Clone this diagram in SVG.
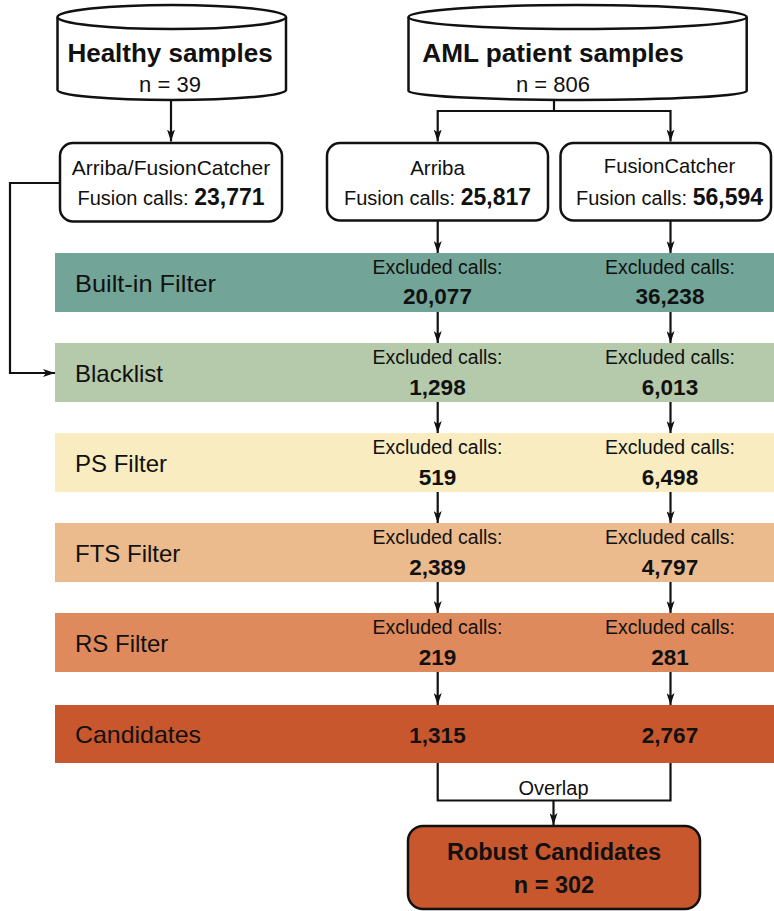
<svg xmlns="http://www.w3.org/2000/svg" width="774" height="911" viewBox="0 0 774 911">
<style>
text{font-family:"Liberation Sans",Arial,sans-serif;fill:#111}
.b{font-weight:bold}
.mid{text-anchor:middle}
.shape{fill:#fff;stroke:#111;stroke-width:2.5}
.conn{fill:none;stroke:#111;stroke-width:2.2}
.lbl{font-size:24px}
.ex{font-size:19.5px;text-anchor:middle}
.num{font-size:22.5px;font-weight:bold;text-anchor:middle}
</style>
<defs>
<marker id="ah" markerUnits="userSpaceOnUse" markerWidth="12" markerHeight="8" refX="12" refY="4" orient="auto" viewBox="0 0 12 8">
<path d="M0,0 L12,4 L0,8 L3,4 z" fill="#111"/>
</marker>
</defs>
<rect width="774" height="911" fill="#fff"/>

<g id="band-builtin">
<rect x="55" y="253" width="719" height="59" fill="#72A597"/>
<text class="lbl" x="75" y="292" textLength="141" lengthAdjust="spacingAndGlyphs">Built-in Filter</text>
<text class="ex" x="437.5" y="273.5">Excluded calls:</text>
<text class="num" x="437.5" y="304">20,077</text>
<text class="ex" x="670" y="273.5">Excluded calls:</text>
<text class="num" x="670" y="304">36,238</text>
</g>
<g id="band-blacklist">
<rect x="55" y="343" width="719" height="59" fill="#B5C9AB"/>
<text class="lbl" x="75" y="382">Blacklist</text>
<text class="ex" x="437.5" y="363.5">Excluded calls:</text>
<text class="num" x="437.5" y="394.5">1,298</text>
<text class="ex" x="670" y="363.5">Excluded calls:</text>
<text class="num" x="670" y="394.5">6,013</text>
</g>
<g id="band-ps">
<rect x="55" y="433" width="719" height="59" fill="#F8ECC0"/>
<text class="lbl" x="75" y="472">PS Filter</text>
<text class="ex" x="437.5" y="453.5">Excluded calls:</text>
<text class="num" x="437.5" y="484.5">519</text>
<text class="ex" x="670" y="453.5">Excluded calls:</text>
<text class="num" x="670" y="484.5">6,498</text>
</g>
<g id="band-fts">
<rect x="55" y="523" width="719" height="59" fill="#ECBB8D"/>
<text class="lbl" x="75" y="562">FTS Filter</text>
<text class="ex" x="437.5" y="543.5">Excluded calls:</text>
<text class="num" x="437.5" y="574.5">2,389</text>
<text class="ex" x="670" y="543.5">Excluded calls:</text>
<text class="num" x="670" y="574.5">4,797</text>
</g>
<g id="band-rs">
<rect x="55" y="613" width="719" height="59" fill="#DE8A5D"/>
<text class="lbl" x="75" y="652">RS Filter</text>
<text class="ex" x="437.5" y="633.5">Excluded calls:</text>
<text class="num" x="437.5" y="664.5">219</text>
<text class="ex" x="670" y="633.5">Excluded calls:</text>
<text class="num" x="670" y="664.5">281</text>
</g>
<g id="band-candidates">
<rect x="55" y="705" width="719" height="58" fill="#C9572E"/>
<text class="lbl" x="75" y="743" textLength="126" lengthAdjust="spacingAndGlyphs">Candidates</text>
<text class="num" x="437.5" y="743">1,315</text>
<text class="num" x="670" y="743">2,767</text>
</g>

<g id="connectors">
<path class="conn" d="M171,100 V141.5" marker-end="url(#ah)"/>
<path class="conn" d="M554,100 V111 M437.7,111 H670.5" />
<path class="conn" d="M437.7,110 V141.5" marker-end="url(#ah)"/>
<path class="conn" d="M670.5,110 V141.5" marker-end="url(#ah)"/>
<path class="conn" d="M60,183 H10 V373 H55" marker-end="url(#ah)"/>
<path class="conn" d="M437.7,221 V253" marker-end="url(#ah)"/>
<path class="conn" d="M670.5,221 V253" marker-end="url(#ah)"/>
<path class="conn" d="M437.7,312 V343" marker-end="url(#ah)"/>
<path class="conn" d="M670.5,312 V343" marker-end="url(#ah)"/>
<path class="conn" d="M437.7,402 V433" marker-end="url(#ah)"/>
<path class="conn" d="M670.5,402 V433" marker-end="url(#ah)"/>
<path class="conn" d="M437.7,492 V523" marker-end="url(#ah)"/>
<path class="conn" d="M670.5,492 V523" marker-end="url(#ah)"/>
<path class="conn" d="M437.7,582 V613" marker-end="url(#ah)"/>
<path class="conn" d="M670.5,582 V613" marker-end="url(#ah)"/>
<path class="conn" d="M437.7,672 V705" marker-end="url(#ah)"/>
<path class="conn" d="M670.5,672 V705" marker-end="url(#ah)"/>
<path class="conn" d="M437.7,763 V800.5 H670.5 V763"/>
<path class="conn" d="M553.5,800.5 V825" marker-end="url(#ah)"/>
<text x="553.5" y="795" class="mid" font-size="20">Overlap</text>
</g>

<g id="healthy-samples">
<path class="shape" d="M57.5,17 V90 A114.25,10 0 0 0 286,90 V17 A114.25,12 0 0 0 57.5,17 Z"/>
<path class="shape" fill="none" d="M57.5,17 A114.25,12 0 0 0 286,17"/>
<text x="170" y="62" class="b mid" font-size="26">Healthy samples</text>
<text x="170" y="92" class="mid" font-size="22">n = 39</text>
</g>

<g id="aml-samples">
<path class="shape" d="M408.5,17 V91 A169.1,9 0 0 0 746.7,91 V17 A169.1,12 0 0 0 408.5,17 Z"/>
<path class="shape" fill="none" d="M408.5,17 A169.1,12 0 0 0 746.7,17"/>
<text x="553" y="62" class="b mid" font-size="26.2">AML patient samples</text>
<text x="553" y="92" class="mid" font-size="22">n = 806</text>
</g>

<g id="healthy-caller">
<rect class="shape" x="60" y="143" width="222" height="78.5" rx="13"/>
<text x="171" y="175" class="mid" font-size="21">Arriba/FusionCatcher</text>
<text x="171" y="205" class="mid" font-size="20">Fusion calls: <tspan class="b" font-size="23">23,771</tspan></text>
</g>

<g id="arriba">
<rect class="shape" x="327" y="143" width="221" height="77.5" rx="13"/>
<text x="437.5" y="175" class="mid" font-size="20.5">Arriba</text>
<text x="437.5" y="205" class="mid" font-size="20">Fusion calls: <tspan class="b" font-size="23">25,817</tspan></text>
</g>

<g id="fusioncatcher">
<rect class="shape" x="560.5" y="143" width="210.5" height="77.5" rx="13"/>
<text x="669.5" y="173" class="mid" font-size="20.2">FusionCatcher</text>
<text x="669.5" y="204.5" class="mid" font-size="20">Fusion calls: <tspan class="b" font-size="23">56,594</tspan></text>
</g>

<g id="robust-candidates">
<rect x="408" y="826" width="292" height="83" rx="15" fill="#C9572E" stroke="#111" stroke-width="2.5"/>
<text x="554" y="860" class="b mid" font-size="23.5">Robust Candidates</text>
<text x="554" y="893" class="b mid" font-size="23.5">n = 302</text>
</g>
</svg>
